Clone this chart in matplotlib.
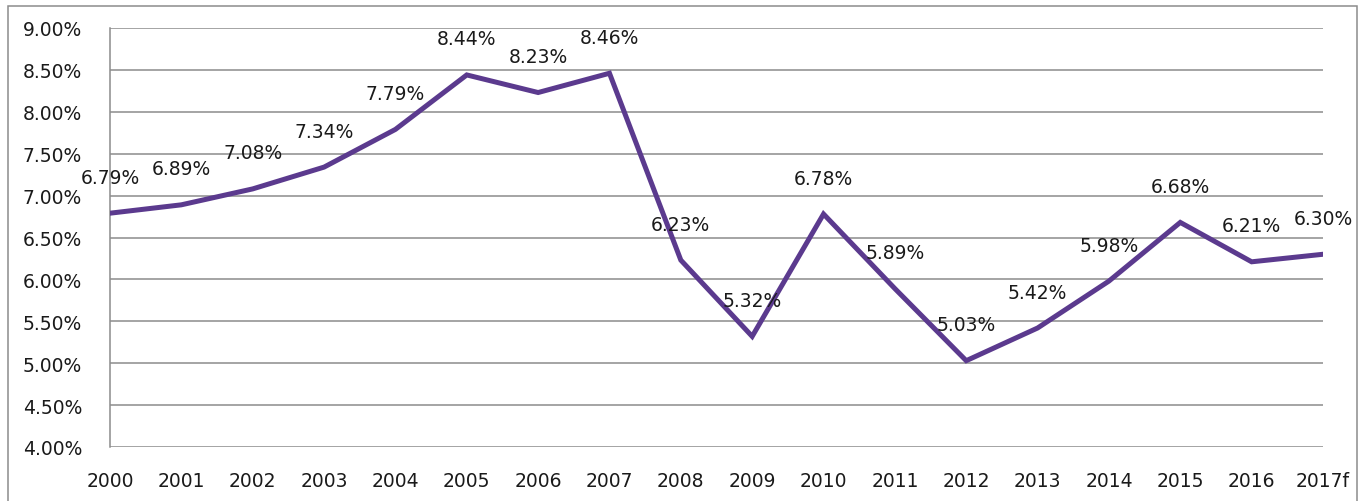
import matplotlib.pyplot as plt
from matplotlib.patches import Rectangle

years = ['2000', '2001', '2002', '2003', '2004', '2005', '2006', '2007', '2008',
         '2009', '2010', '2011', '2012', '2013', '2014', '2015', '2016', '2017f']
rates = [6.79, 6.89, 7.08, 7.34, 7.79, 8.44, 8.23, 8.46, 6.23,
         5.32, 6.78, 5.89, 5.03, 5.42, 5.98, 6.68, 6.21, 6.30]
yticks = [4.0, 4.5, 5.0, 5.5, 6.0, 6.5, 7.0, 7.5, 8.0, 8.5, 9.0]

plt.rcParams['font.family'] = ['DejaVu Sans']

fig = plt.figure(figsize=(13.67, 5.02), dpi=100)
ax = fig.add_axes([110/1367, 54/502, 1213/1367, 419/502])

x = list(range(len(years)))
ax.plot(x, rates, color='#5b3a8e', lw=3.6, solid_joinstyle='miter', zorder=3)

for xi, v in zip(x, rates):
    ax.annotate('%.2f%%' % v, (xi, v), xytext=(0, 36), textcoords='offset pixels',
                ha='center', va='center', fontsize=13.5, color='#1a1a1a', zorder=4)

ax.set_xlim(0, len(years) - 1)
ax.set_ylim(4, 9)
ax.set_yticks(yticks)
ax.set_yticklabels(['%.2f%%' % t for t in yticks])
ax.set_xticks(x)
ax.set_xticklabels(years)
ax.tick_params(length=0, labelsize=13.5, colors='#1a1a1a')
ax.tick_params(axis='y', pad=20)
ax.tick_params(axis='x', pad=17)
ax.grid(axis='y', color='#8c8c8c', lw=1.1)
ax.set_axisbelow(True)
for s in ['top', 'right', 'bottom']:
    ax.spines[s].set_visible(False)
ax.spines['left'].set_color('#8c8c8c')
ax.spines['left'].set_linewidth(1.1)

fig.patches.append(Rectangle((8/1367, -0.02), 1349/1367, 495/502 + 0.02,
                             transform=fig.transFigure, fill=False,
                             edgecolor='#8c8c8c', lw=1.1))

fig.savefig('out.png', dpi=100)
